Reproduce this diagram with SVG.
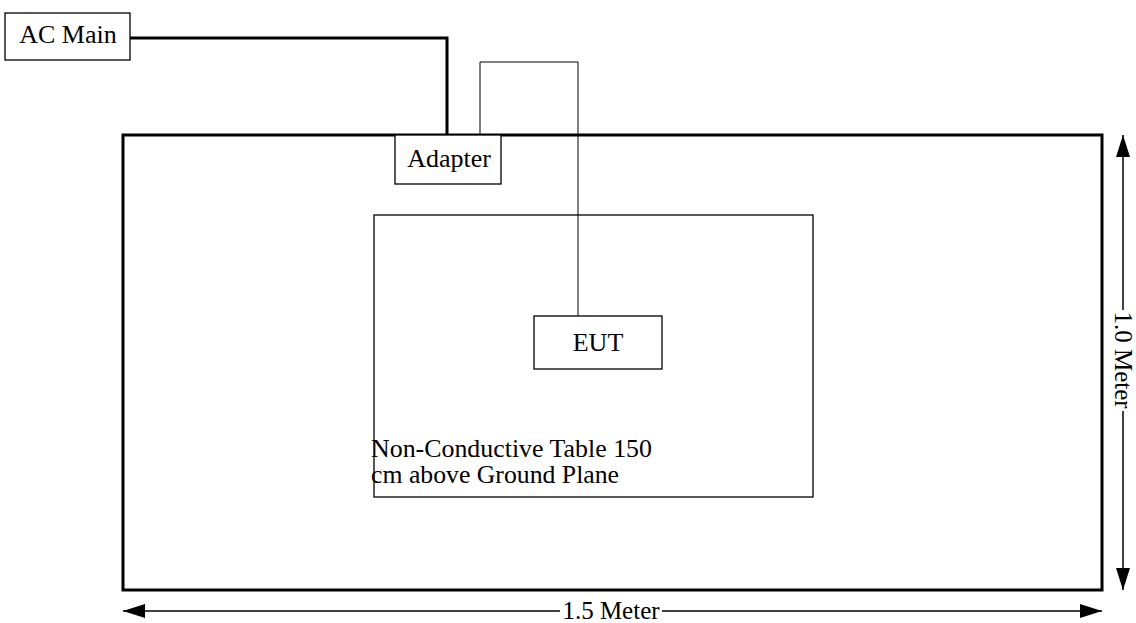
<svg xmlns="http://www.w3.org/2000/svg" width="1136" height="623" viewBox="0 0 1136 623">
<style>
text{font-family:"Liberation Serif","Times New Roman",serif;font-size:26px;fill:#000}
.small{font-size:25px}
.box{fill:#fff;stroke:#000;stroke-width:1.3}
.thick{fill:none;stroke:#000;stroke-width:3}
.thin{fill:none;stroke:#000;stroke-width:1}
.dim{fill:none;stroke:#000;stroke-width:1.5}
</style>
<defs>
<marker id="arr" viewBox="0 0 22 14" refX="22" refY="7" markerWidth="22" markerHeight="14" markerUnits="userSpaceOnUse" orient="auto-start-reverse">
<path d="M0,0 L22,7 L0,14 Z" fill="#000"/>
</marker>
</defs>
<g id="ground-plane"><rect x="123" y="135" width="979" height="455" class="thick"/></g>
<g id="table"><rect x="374" y="215" width="439" height="282" fill="none" stroke="#000" stroke-width="1.3"/>
<text class="small" x="371" y="457" textLength="281" lengthAdjust="spacingAndGlyphs">Non-Conductive Table 150</text>
<text class="small" x="371" y="483" textLength="248" lengthAdjust="spacingAndGlyphs">cm above Ground Plane</text></g>
<g id="connectors">
<path d="M130,38 H447 V135" class="thick"/>
<path d="M480,135 V62 H578 V316" class="thin"/>
<path d="M123,611 H1102" class="dim" marker-start="url(#arr)" marker-end="url(#arr)"/>
<path d="M1123,135 V590" class="dim" marker-start="url(#arr)" marker-end="url(#arr)"/>
</g>
<g id="ac-main"><rect x="5" y="13" width="125" height="47" class="box"/><text x="68" y="43" text-anchor="middle">AC Main</text></g>
<g id="adapter"><rect x="395" y="135" width="106" height="49" class="box"/><text x="449" y="167" text-anchor="middle">Adapter</text></g>
<g id="eut"><rect x="534" y="316" width="128" height="53" class="box"/><text x="598" y="351" text-anchor="middle">EUT</text></g>
<g id="dim-labels">
<rect x="560" y="602" width="102" height="18" fill="#fff"/>
<text class="small" x="611" y="619" text-anchor="middle">1.5 Meter</text>
<rect x="1114" y="310" width="18" height="101" fill="#fff"/>
<text class="small" x="0" y="0" text-anchor="middle" transform="translate(1115,360) rotate(90)">1.0 Meter</text>
</g>
</svg>
